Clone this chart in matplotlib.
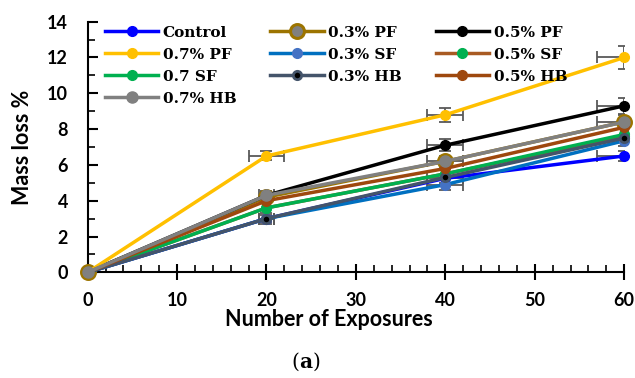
import matplotlib
matplotlib.use("Agg")
import matplotlib.pyplot as plt
from matplotlib.ticker import MultipleLocator

exposures = [0, 20, 40, 60]
labels = ["Control", "0.3% PF", "0.5% PF", "0.7% PF", "0.3% SF",
          "0.5% SF", "0.7 SF", "0.3% HB", "0.5% HB", "0.7% HB"]
control = [0, 3.0, 5.25, 6.5]
pf03 = [0, 4.2, 6.2, 8.4]
pf05 = [0, 4.3, 7.1, 9.3]
pf07 = [0, 6.5, 8.8, 12.0]
sf03 = [0, 3.0, 4.9, 7.35]
sf05 = [0, 3.6, 5.5, 7.6]
sf07 = [0, 3.6, 5.5, 7.7]
hb03 = [0, 3.0, 5.3, 7.5]
hb05 = [0, 4.0, 5.8, 8.1]
hb07 = [0, 4.3, 6.2, 8.4]
series = [control, pf03, pf05, pf07, sf03, sf05, sf07, hb03, hb05, hb07]

# error bars (only some series)
yerr = {"Control": [0, 0.2, 0.25, 0.3], "0.5% PF": [0, 0.2, 0.35, 0.45],
        "0.7% PF": [0, 0.25, 0.4, 0.65], "0.7% HB": [0, 0.25, 0.3, 0.4],
        "0.3% SF": [0, 0.3, 0.3, 0.3]}
xerr = {"Control": [0, 0.8, 2, 3], "0.5% PF": [0, 0, 2, 3],
        "0.7% PF": [0, 2, 2, 3], "0.7% HB": [0, 0.8, 2, 3],
        "0.3% SF": [0, 0.8, 2, 0]}

line_colors = ["#0000FF", "#9C7400", "#000000", "#FFC000", "#0070C0",
               "#A85A22", "#00B050", "#44546A", "#9E480E", "#808080"]
marker_face = ["#0000FF", "#808080", "#000000", "#FFC000", "#4472C4",
               "#00B050", "#00B050", "#000000", "#9E480E", "#808080"]
marker_edge = ["#0000FF", "#9C7400", "#000000", "#FFC000", "#4472C4",
               "#00B050", "#00B050", "#44546A", "#9E480E", "#808080"]
marker_size = [7, 10, 7, 7, 7, 7, 7, 6, 7, 8]
marker_ew = [1, 2.2, 1, 1, 1, 1, 1, 2, 1, 1]

fig = plt.figure(figsize=(6.35, 3.78), dpi=100)
ax = fig.add_axes([0.138, 0.2796, 0.845, 0.663])

tickfont = "Lato"
handles = []
for i, (lab, vals) in enumerate(zip(labels, series)):
    if lab in yerr:
        ax.errorbar(exposures, vals, yerr=yerr[lab], xerr=xerr[lab], fmt="none",
                    ecolor="#595959", elinewidth=1.3, capsize=4, capthick=1.3,
                    zorder=2)
    h, = ax.plot(exposures, vals, color=line_colors[i], lw=2.5, marker="o",
                 ms=marker_size[i], mfc=marker_face[i], mec=marker_edge[i],
                 mew=marker_ew[i], label=lab, zorder=3 + i * 0.1, clip_on=False)
    handles.append(h)

ax.set_xlim(0, 60)
ax.set_ylim(0, 14)
ax.xaxis.set_major_locator(MultipleLocator(10))
ax.xaxis.set_minor_locator(MultipleLocator(2))
ax.yaxis.set_major_locator(MultipleLocator(2))
ax.yaxis.set_minor_locator(MultipleLocator(1))
for s in ["top", "right"]:
    ax.spines[s].set_visible(False)
for s in ["left", "bottom"]:
    ax.spines[s].set_linewidth(1.5)
ax.tick_params(axis="x", which="major", direction="inout", length=12, width=1.5,
               pad=8)
ax.tick_params(axis="x", which="minor", direction="in", length=5, width=1.2)
ax.tick_params(axis="y", which="major", direction="in", length=7, width=1.5,
               pad=14)
ax.tick_params(axis="y", which="minor", direction="in", length=5, width=1.2)
for t in ax.get_xticklabels() + ax.get_yticklabels():
    t.set_fontfamily(tickfont)
    t.set_fontweight("bold")
    t.set_fontsize(13)

fig.text(0.035, 0.611, "Mass loss %", rotation=90, ha="center", va="center",
         fontfamily=tickfont, fontweight="bold", fontsize=15.5)
fig.text(0.518, 0.156, "Number of Exposures", ha="center", va="center",
         fontfamily=tickfont, fontweight="bold", fontsize=15.5)
fig.text(0.471, 0.042, "(", ha="right", va="center", fontfamily="DejaVu Serif",
         fontsize=14.5)
fig.text(0.471, 0.042, "a", ha="left", va="center", fontfamily="DejaVu Serif",
         fontsize=14.5, fontweight="bold")
fig.text(0.471 + 0.022, 0.042, ")", ha="left", va="center",
         fontfamily="DejaVu Serif", fontsize=14.5)

# row-wise legend order for 3 columns
order = [0, 3, 6, 9, 1, 4, 7, 2, 5, 8]
leg = ax.legend([handles[k] for k in order], [labels[k] for k in order],
                loc="upper left", bbox_to_anchor=(0.165, 0.932),
                bbox_transform=fig.transFigure, ncol=3, frameon=False,
                prop={"family": "DejaVu Serif", "weight": "bold", "size": 11},
                handlelength=3.5, handletextpad=0.3, columnspacing=2.2,
                labelspacing=0.52, borderaxespad=0, borderpad=0)

fig.savefig("out.png", dpi=100)
